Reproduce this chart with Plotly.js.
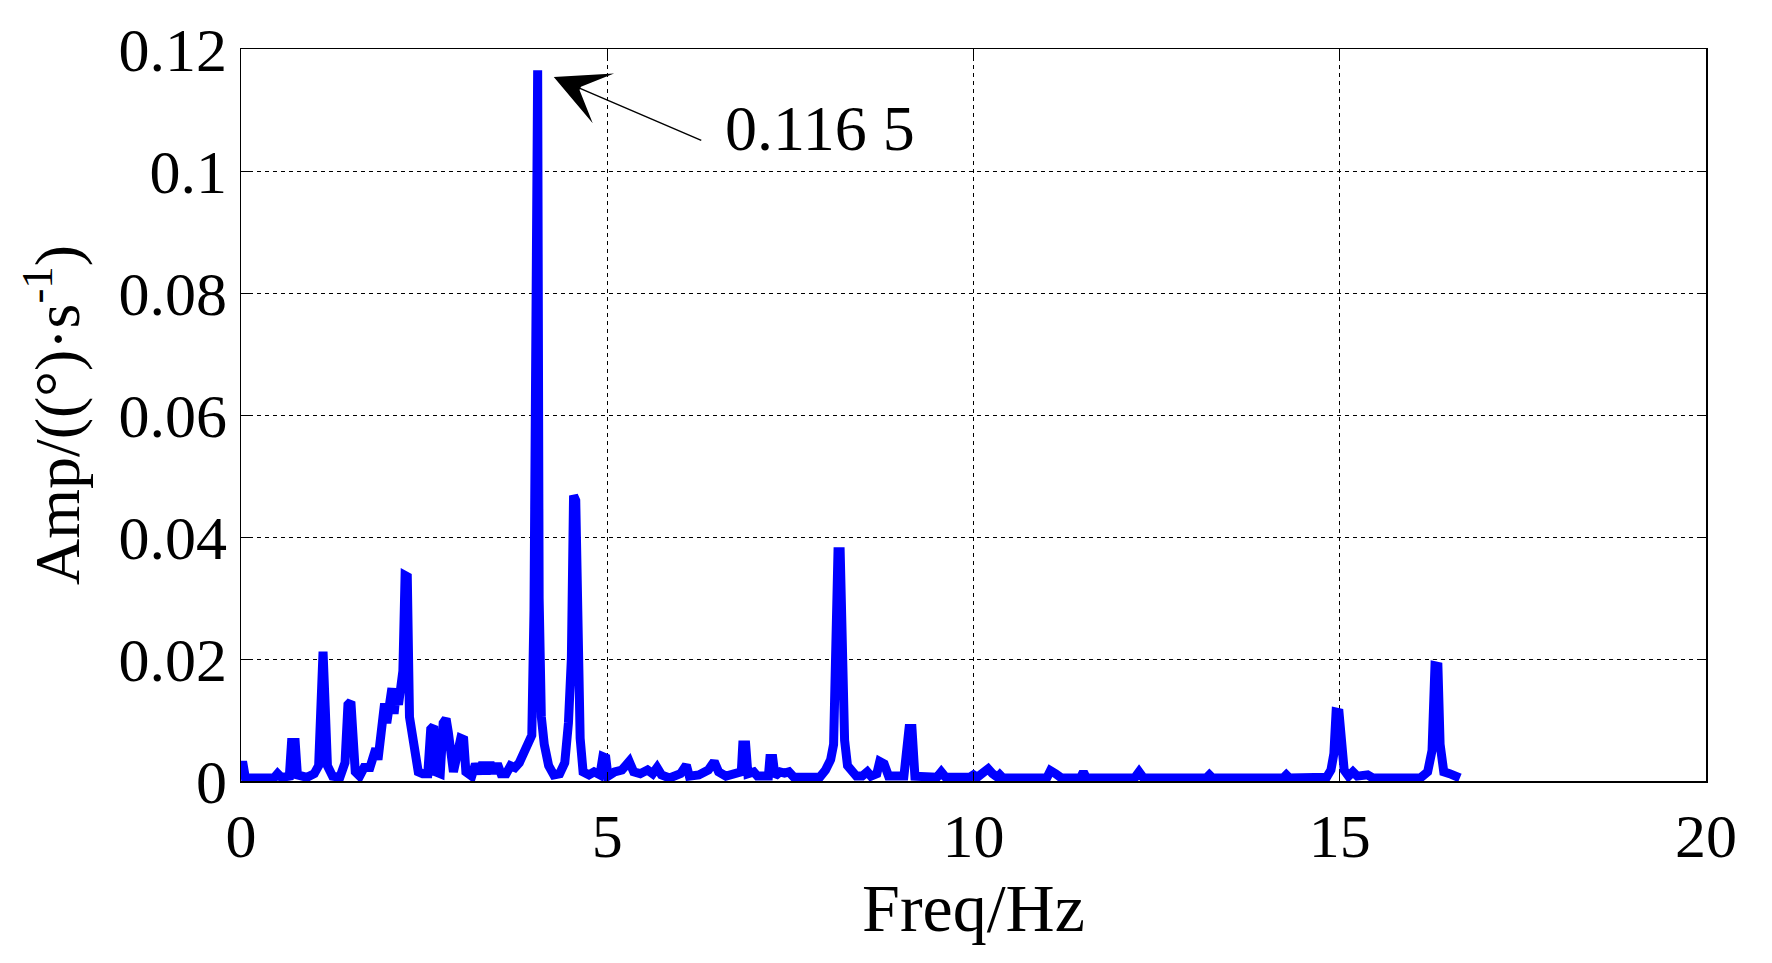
<!DOCTYPE html>
<html>
<head>
<meta charset="utf-8">
<script src="https://cdn.plot.ly/plotly-3.0.1.min.js"></script>
<style>
  html, body { margin: 0; padding: 0; background: #fff; }
  #chart { width: 1772px; height: 963px; }
</style>
</head>
<body>
<div id="chart"></div>
<script>
// Spectrum (Hz, amplitude)
const freq = [
  0, 0.03, 0.06, 0.45, 0.5, 0.55, 0.66, 0.69, 0.74, 0.77,
  0.9, 1.0, 1.06, 1.09, 1.12, 1.15, 1.18, 1.25, 1.35, 1.42,
  1.46, 1.5, 1.53, 1.56, 1.62, 1.68, 1.76, 1.8, 1.84, 1.87,
  1.92, 1.96, 1.99, 2.03, 2.06, 2.09, 2.12, 2.15, 2.18, 2.21,
  2.24, 2.27, 2.3, 2.34, 2.38, 2.42, 2.48, 2.55, 2.59, 2.63,
  2.66, 2.72, 2.76, 2.8, 2.83, 2.86, 2.9, 2.96, 3.0, 3.04,
  3.07, 3.15, 3.2, 3.25, 3.3, 3.35, 3.4, 3.45, 3.5, 3.55,
  3.62, 3.68, 3.74, 3.8, 3.86, 3.92, 3.97, 4.0, 4.03, 4.05,
  4.07, 4.1, 4.14, 4.2, 4.27, 4.35, 4.42, 4.47, 4.51, 4.54,
  4.57, 4.6, 4.63, 4.67, 4.75, 4.82, 4.9, 4.94, 4.98, 5.01,
  5.1, 5.2, 5.3, 5.36, 5.45, 5.55, 5.62, 5.68, 5.74, 5.85,
  6.0, 6.08, 6.12, 6.25, 6.38, 6.46, 6.52, 6.62, 6.7, 6.83,
  6.85, 6.89, 6.92, 7.0, 7.05, 7.2, 7.22, 7.26, 7.29, 7.36,
  7.42, 7.48, 7.55, 7.9, 7.98, 8.05, 8.09, 8.12, 8.15, 8.18,
  8.21, 8.24, 8.28, 8.34, 8.4, 8.48, 8.55, 8.6, 8.68, 8.72,
  8.78, 8.84, 9.05, 9.12, 9.16, 9.2, 9.5, 9.56, 9.62, 9.95,
  10.0, 10.05, 10.12, 10.2, 10.26, 10.33, 10.36, 10.4, 11.0, 11.05,
  11.12, 11.2, 11.46, 11.5, 11.54, 12.2, 12.26, 12.32, 13.18, 13.22,
  13.26, 14.23, 14.27, 14.31, 14.82, 14.88, 14.92, 14.95, 14.99, 15.02,
  15.06, 15.12, 15.18, 15.24, 15.35, 15.38, 15.45, 16.1, 16.2, 16.26,
  16.3, 16.34, 16.37, 16.42, 16.5, 16.55, 16.64
];
const amp = [
  0.0026, 0.0026, 0.0005, 0.0005, 0.0012, 0.0006, 0.0008, 0.0063, 0.0063, 0.001,
  0.0006, 0.0012, 0.0025, 0.02, 0.0212, 0.012, 0.0025, 0.0008, 0.0006, 0.003,
  0.0125, 0.013, 0.006, 0.0015, 0.0008, 0.0022, 0.0022, 0.0045, 0.0053, 0.0035,
  0.009, 0.0127, 0.0095, 0.0145, 0.0152, 0.011, 0.0146, 0.0125, 0.0163, 0.018,
  0.0337, 0.0335, 0.0105, 0.0068, 0.0035, 0.0015, 0.0012, 0.0012, 0.0085, 0.009,
  0.0015, 0.0012, 0.0095, 0.0102, 0.008, 0.0052, 0.0015, 0.0048, 0.007, 0.0068,
  0.0015, 0.0008, 0.0028, 0.0012, 0.003, 0.0012, 0.003, 0.0013, 0.0028, 0.0012,
  0.0012, 0.0025, 0.0022, 0.003, 0.0045, 0.006, 0.0075, 0.028, 0.1165, 0.1165,
  0.03, 0.0105, 0.006, 0.0025, 0.001, 0.0012, 0.003, 0.0095, 0.02, 0.0468,
  0.046, 0.022, 0.007, 0.0015, 0.001, 0.0015, 0.001, 0.004, 0.0038, 0.0008,
  0.0015, 0.0018, 0.0032, 0.0015, 0.0012, 0.0018, 0.0012, 0.0022, 0.001, 0.0005,
  0.0012, 0.0026, 0.0008, 0.001, 0.0018, 0.0032, 0.0015, 0.0008, 0.0012, 0.0015,
  0.0059, 0.0059, 0.0012, 0.0015, 0.0008, 0.0008, 0.0037, 0.0037, 0.0008, 0.0015,
  0.0013, 0.0015, 0.0006, 0.0006, 0.0018, 0.0035, 0.006, 0.03, 0.0376, 0.0376,
  0.02, 0.0067, 0.0025, 0.0015, 0.0008, 0.0008, 0.0015, 0.0008, 0.0012, 0.0032,
  0.0028, 0.0008, 0.0008, 0.0086, 0.0086, 0.0008, 0.0006, 0.0015, 0.0006, 0.0006,
  0.001, 0.0006, 0.0012, 0.002, 0.0012, 0.0006, 0.001, 0.0005, 0.0005, 0.0017,
  0.0012, 0.0005, 0.0005, 0.0015, 0.0005, 0.0005, 0.0015, 0.0005, 0.0005, 0.001,
  0.0005, 0.0005, 0.001, 0.0005, 0.0006, 0.0018, 0.0045, 0.0113, 0.0112, 0.005,
  0.0018, 0.0008, 0.0015, 0.0008, 0.0008, 0.001, 0.0005, 0.0005, 0.0015, 0.005,
  0.0189, 0.0188, 0.006, 0.0015, 0.0012, 0.0008, 0.0005
];

const peakLabel = "0.116 5";
const serif = "Liberation Serif, Times New Roman, serif";

const axisCommon = {
  showline: true,
  linecolor: "#000",
  linewidth: 1.5,
  mirror: "ticks",
  ticks: "inside",
  ticklen: 9,
  tickcolor: "#000",
  showgrid: true,
  gridcolor: "#000",
  gridwidth: 1,
  griddash: "4px,4px",
  zeroline: false,
  tickfont: { family: serif, size: 62, color: "#000" }
};

const layout = {
  width: 1772,
  height: 963,
  margin: { l: 241, r: 66, t: 49, b: 182 },
  paper_bgcolor: "#fff",
  plot_bgcolor: "#fff",
  showlegend: false,
  xaxis: {
    ...axisCommon,
    range: [0, 20],
    tickvals: [0, 5, 10, 15, 20],
    title: { text: "Freq/Hz", font: { family: serif, size: 68, color: "#000" }, standoff: 10 }
  },
  yaxis: {
    ...axisCommon,
    range: [0, 0.12],
    tickvals: [0, 0.02, 0.04, 0.06, 0.08, 0.1, 0.12],
    ticktext: ["0", "0.02", "0.04", "0.06", "0.08", "0.1", "0.12"],
    title: { text: "Amp/((°)·s<sup>-1</sup>)", font: { family: serif, size: 64, color: "#000" }, standoff: 18 }
  },
  annotations: [
    {
      x: 4.27, y: 0.1154, xref: "x", yref: "y",
      text: "", showarrow: true,
      ax: 149, ay: 64,
      arrowhead: 3, arrowsize: 6, arrowwidth: 1.5, arrowcolor: "#000"
    },
    {
      x: 7.9, y: 0.107, xref: "x", yref: "y",
      text: peakLabel, showarrow: false,
      font: { family: serif, size: 64, color: "#000" }
    }
  ]
};

Plotly.newPlot("chart", [{
  x: freq,
  y: amp,
  type: "scatter",
  mode: "lines",
  line: { color: "#0000ff", width: 9 },
  hoverinfo: "skip"
}], layout, { staticPlot: true });
</script>
</body>
</html>
